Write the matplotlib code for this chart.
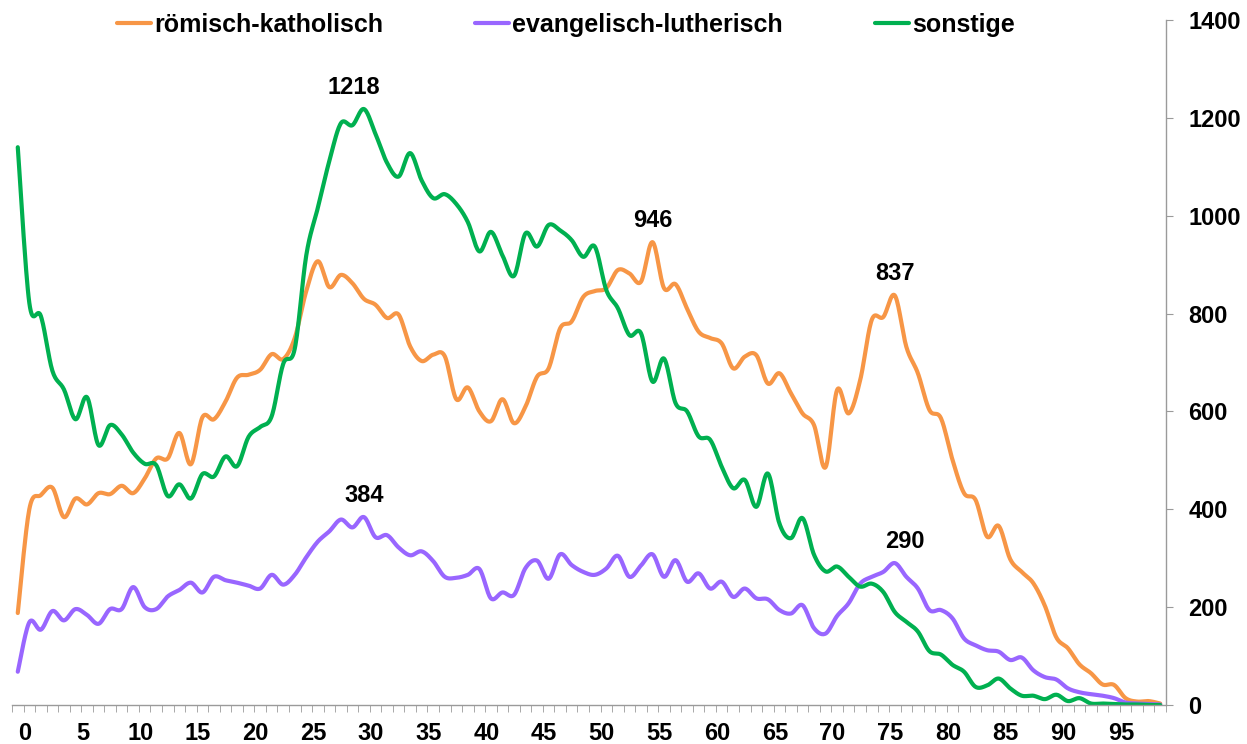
import numpy as np
import matplotlib
matplotlib.use("Agg")
import matplotlib.pyplot as plt
from matplotlib.transforms import ScaledTranslation

# Alter 0..99
ages = list(range(100))

roemisch = [188, 400, 429, 444, 384, 422, 410, 433, 431, 448,
            433, 463, 504, 504, 556, 492, 588, 584, 620, 669,
            675, 685, 717, 707, 750, 846, 907, 854, 879, 862,
            830, 818, 791, 798, 733, 703, 716, 713, 625, 649,
            600, 580, 625, 576, 610, 671, 688, 770, 784, 834,
            846, 852, 889, 882, 865, 946, 852, 860, 810, 763,
            750, 739, 688, 712, 715, 657, 678, 637, 596, 572,
            486, 644, 596, 664, 787, 793, 837, 732, 678, 603,
            586, 501, 433, 419, 344, 366, 298, 272, 249, 203,
            138, 116, 83, 65, 42, 41, 14, 7, 8, 3]

evangelisch = [68, 169, 154, 192, 173, 196, 184, 166, 196, 196,
               241, 200, 196, 222, 235, 250, 230, 262, 255, 250,
               244, 238, 266, 246, 266, 302, 334, 355, 379, 363,
               384, 343, 347, 322, 306, 314, 294, 262, 260, 266,
               278, 218, 230, 225, 280, 295, 258, 308, 286, 272,
               266, 279, 305, 262, 285, 308, 262, 296, 252, 269,
               238, 252, 221, 238, 218, 216, 194, 187, 204, 157,
               146, 182, 208, 248, 262, 272, 290, 262, 238, 194,
               194, 177, 136, 122, 112, 109, 92, 97, 71, 57,
               52, 34, 26, 22, 19, 14, 5, 3, 2, 1]

sonstige = [1140, 822, 795, 683, 645, 584, 629, 531, 572, 553,
            516, 493, 490, 427, 451, 422, 472, 467, 508, 488,
            548, 568, 590, 697, 728, 919, 1016, 1112, 1189, 1185,
            1218, 1167, 1108, 1080, 1128, 1072, 1036, 1044, 1024, 987,
            927, 967, 919, 877, 964, 937, 981, 970, 950, 916,
            937, 848, 811, 756, 760, 661, 708, 617, 600, 549,
            542, 487, 443, 460, 405, 473, 371, 341, 382, 307,
            273, 283, 262, 242, 248, 231, 190, 170, 150, 110,
            103, 82, 68, 37, 40, 54, 34, 19, 19, 12,
            21, 8, 14, 3, 3, 2, 1, 1, 0, 0]

names = ["römisch-katholisch", "evangelisch-lutherisch", "sonstige"]
colors = ["#F79646", "#9966FF", "#00B050"]

# Datenbeschriftungen: (Reihe, Alter)
labels_at = [(0, 55), (0, 76), (1, 30), (1, 76), (2, 30)]


def smooth(x, y, n=16):
    """Glättung wie Excel (Bezier mit Catmull-Rom Kontrollpunkten)"""
    x = np.asarray(x, float)
    y = np.asarray(y, float)
    xp = np.concatenate([[x[0]], x, [x[-1]]])
    yp = np.concatenate([[y[0]], y, [y[-1]]])
    t = np.linspace(0, 1, n, endpoint=False)[:, None]
    out = []
    for i in range(len(x) - 1):
        p0 = np.array([xp[i], yp[i]])
        p1 = np.array([xp[i + 1], yp[i + 1]])
        p2 = np.array([xp[i + 2], yp[i + 2]])
        p3 = np.array([xp[i + 3], yp[i + 3]])
        c1 = p1 + (p2 - p0) / 6
        c2 = p2 - (p3 - p1) / 6
        seg = ((1 - t) ** 3 * p1 + 3 * (1 - t) ** 2 * t * c1
               + 3 * (1 - t) * t ** 2 * c2 + t ** 3 * p2)
        out.append(seg)
    out.append(np.array([[x[-1], y[-1]]]))
    pts = np.vstack(out)
    return pts[:, 0], pts[:, 1]


def main():
    plt.rcParams['font.family'] = ['Liberation Sans', 'DejaVu Sans']
    plt.rcParams['font.weight'] = 'bold'

    fig = plt.figure(figsize=(12.47, 7.44), dpi=100)
    ax = fig.add_axes([12 / 1247, 39 / 744, 1154 / 1247, 685 / 744])

    data = [roemisch, evangelisch, sonstige]
    for vals, name, col in zip(data, names, colors):
        xs, ys = smooth(ages, vals)
        ax.plot(xs, ys, color=col, lw=3.0, label=name,
                solid_capstyle='round', solid_joinstyle='round')

    # Datenbeschriftungen
    shifts = {(2, 30): -7, (1, 76): 7}
    for s, i in labels_at:
        ax.annotate(str(data[s][i]), (ages[i], data[s][i]),
                    xytext=(shifts.get((s, i), 0), 7.5),
                    textcoords='offset points', ha='center', va='bottom',
                    fontsize=17, fontweight='bold')

    ax.set_xlim(-0.5, 99.5)
    ax.set_ylim(0, 1400)

    for side in ['top', 'left']:
        ax.spines[side].set_visible(False)
    for side in ['bottom', 'right']:
        ax.spines[side].set_color('#9a9a9a')
        ax.spines[side].set_linewidth(1.0)

    # Y-Achse rechts
    ax.yaxis.tick_right()
    ax.set_yticks(np.arange(0, 1401, 200))
    ax.tick_params(axis='y', which='major', direction='out', length=5,
                   color='#9a9a9a', labelsize=17, pad=11)

    # X-Achse: Teilstriche zwischen den Kategorien, Beschriftung alle 5
    ax.set_xticks(np.arange(-0.5, 100, 1), minor=True)
    ax.set_xticks(np.arange(0, 100, 5))
    ax.tick_params(axis='x', which='minor', direction='out', length=5,
                   color='#9a9a9a')
    ax.tick_params(axis='x', which='major', length=0, labelsize=17, pad=12)
    offset = ScaledTranslation(7 / 100, 0, fig.dpi_scale_trans)
    for lab in ax.get_xticklabels():
        lab.set_transform(lab.get_transform() + offset)

    for lab in ax.get_xticklabels() + ax.get_yticklabels():
        lab.set_fontweight('bold')

    fig.legend(loc='center left', bbox_to_anchor=(117 / 1247, 1 - 25 / 744),
               ncol=3, frameon=False, fontsize=18, handlelength=1.35,
               handletextpad=0.12, columnspacing=3.7, borderpad=0,
               borderaxespad=0)

    fig.savefig("out.png", dpi=100)


if __name__ == "__main__":
    main()
